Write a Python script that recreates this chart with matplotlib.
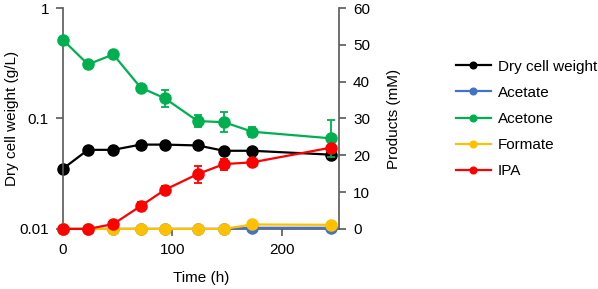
import matplotlib.pyplot as plt
import numpy as np

plt.rcParams['font.family'] = ['Liberation Sans', 'DejaVu Sans']
plt.rcParams['font.size'] = 11

time = [0, 23, 46, 71, 93, 123, 147, 173, 245]
dcw = [0.035, 0.052, 0.052, 0.058, 0.058, 0.057, 0.051, 0.051, 0.047]
acetate = [0, 0, 0, 0, 0, 0, 0, 0.3, 0.3]
acetone = [51.4, 44.7, 47.4, 38.4, 35.5, 29.3, 29.0, 26.4, 24.6]
acetone_err = [0.5, 1.0, 1.0, 0.8, 2.3, 1.7, 2.7, 1.3, 5.0]
formate = [0, 0, 0, 0, 0, 0, 0, 1.2, 1.1]
ipa = [0, 0, 1.3, 6.2, 10.6, 14.9, 17.6, 18.1, 22.1]
ipa_err = [0, 0, 0.6, 1.0, 1.0, 2.3, 1.5, 1.0, 0.8]

c_black = '#000000'
c_blue = '#4472C4'
c_green = '#00B050'
c_yellow = '#FFC000'
c_red = '#FF0000'
spine_col = '#595959'

fig = plt.figure(figsize=(5.98, 2.89), dpi=100)
ax1 = fig.add_axes([0.105, 0.208, 0.462, 0.764])
ax2 = ax1.twinx()

kw = dict(marker='o', markersize=8, linewidth=1.6, clip_on=False)
h1, = ax1.plot(time, dcw, color=c_black, label='Dry cell weight', **kw)
ax1.set_yscale('log')
ax1.set_ylim(0.01, 1)
ax1.set_xlim(0, 252)
ax1.set_yticks([0.01, 0.1, 1])
ax1.set_yticklabels(['0.01', '0.1', '1'])
ax1.minorticks_off()
ax1.set_xticks([0, 100, 200])

ekw = dict(capsize=3, elinewidth=1.3, capthick=1.3)
h2 = ax2.errorbar(time, acetate, color=c_blue, label='Acetate', **kw)
h3 = ax2.errorbar(time, acetone, yerr=acetone_err, color=c_green, label='Acetone', **kw, **ekw)
h4 = ax2.errorbar(time, formate, color=c_yellow, label='Formate', **kw)
h5 = ax2.errorbar(time, ipa, yerr=ipa_err, color=c_red, label='IPA', **kw, **ekw)
ax2.set_ylim(0, 60)
ax2.set_yticks(np.arange(0, 61, 10))

for ax in (ax1, ax2):
    ax.spines['top'].set_visible(False)
    for s in ('left', 'right', 'bottom'):
        ax.spines[s].set_color(spine_col)
        ax.spines[s].set_linewidth(1.2)
    ax.tick_params(color=spine_col, width=1.2, length=5, pad=5)
ax1.spines['right'].set_visible(False)
ax2.spines['left'].set_visible(False)
ax2.spines['bottom'].set_visible(False)

ax1.set_ylabel('Dry cell weight (g/L)')
ax1.yaxis.set_label_coords(-0.158, 0.5)
ax2.set_ylabel('Products (mM)')
ax2.yaxis.set_label_coords(1.174, 0.5)
ax1.set_xlabel('Time (h)')
ax1.xaxis.set_label_coords(0.5, -0.19)

handles = [h1, h2[0], h3[0], h4[0], h5[0]]
labels = ['Dry cell weight', 'Acetate', 'Acetone', 'Formate', 'IPA']
fig.legend(handles, labels, loc='upper left', bbox_to_anchor=(0.752, 0.815),
           frameon=False, handlelength=2.3, handletextpad=0.45, labelspacing=0.8,
           markerscale=0.6, borderaxespad=0)

fig.savefig('out.png', dpi=100)
